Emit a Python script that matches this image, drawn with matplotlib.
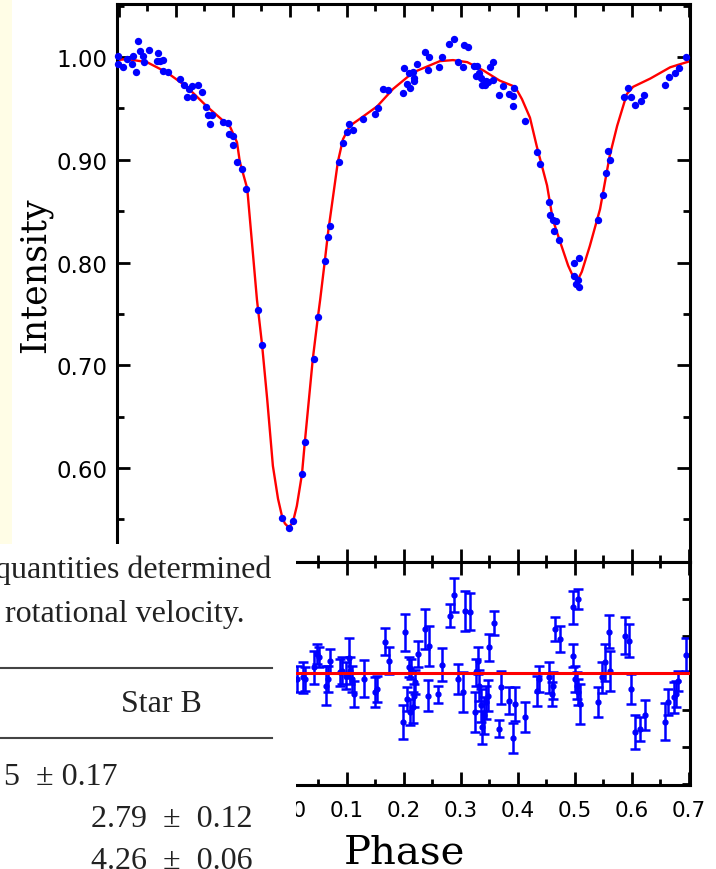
import matplotlib.pyplot as plt
from matplotlib.patches import Rectangle
from matplotlib.lines import Line2D
from matplotlib.ticker import MultipleLocator, FormatStrFormatter, FuncFormatter

# observed light curve (phase, normalised intensity)
phase_obs = [-0.302, -0.302, -0.293, -0.286, -0.277, -0.275, -0.270, -0.267, -0.263, -0.258,
             -0.256, -0.247, -0.233, -0.232, -0.228, -0.223, -0.223, -0.214, -0.193, -0.186,
             -0.181, -0.177, -0.172, -0.170, -0.161, -0.154, -0.147, -0.144, -0.140, -0.137,
             -0.118, -0.109, -0.107, -0.100, -0.100, -0.093, -0.084, -0.077, -0.056, -0.049,
             -0.014, -0.002, 0.005, 0.021, 0.026, 0.042, 0.049, 0.061, 0.067, 0.070,
             0.086, 0.093, 0.100, 0.104, 0.111, 0.128, 0.149, 0.154, 0.163, 0.172,
             0.198, 0.200, 0.205, 0.209, 0.211, 0.216, 0.218, 0.218, 0.223, 0.237,
             0.244, 0.242, 0.261, 0.267, 0.279, 0.288, 0.295, 0.304, 0.305, 0.312,
             0.323, 0.326, 0.328, 0.332, 0.335, 0.337, 0.342, 0.344, 0.347, 0.351,
             0.356, 0.356, 0.367, 0.374, 0.384, 0.391, 0.391, 0.393, 0.412, 0.433,
             0.439, 0.454, 0.456, 0.461, 0.467, 0.463, 0.472, 0.498, 0.507, 0.498,
             0.502, 0.505, 0.507, 0.540, 0.549, 0.554, 0.558, 0.561, 0.586, 0.593,
             0.598, 0.605, 0.616, 0.621, 0.658, 0.665, 0.675, 0.682, 0.695]
flux_obs = [1.001, 0.993, 0.990, 0.998, 0.993, 1.001, 0.985, 1.016, 1.006, 1.001,
            0.995, 1.007, 0.996, 1.004, 0.996, 0.997, 0.986, 0.985, 0.979, 0.973,
            0.961, 0.969, 0.972, 0.961, 0.973, 0.966, 0.951, 0.944, 0.935, 0.944,
            0.937, 0.936, 0.925, 0.923, 0.914, 0.898, 0.891, 0.872, 0.754, 0.720,
            0.551, 0.542, 0.548, 0.594, 0.625, 0.706, 0.747, 0.801, 0.825, 0.836,
            0.898, 0.916, 0.927, 0.935, 0.929, 0.940, 0.945, 0.950, 0.969, 0.968,
            0.965, 0.989, 0.974, 0.984, 0.970, 0.985, 0.977, 0.980, 0.993, 1.005,
            1.000, 0.987, 0.990, 1.000, 1.013, 1.018, 0.995, 0.990, 1.012, 1.010,
            0.991, 0.982, 0.991, 0.984, 0.980, 0.973, 0.973, 0.977, 0.976, 0.990,
            0.995, 0.978, 0.963, 0.972, 0.964, 0.952, 0.962, 0.970, 0.938, 0.908,
            0.896, 0.859, 0.846, 0.841, 0.840, 0.831, 0.822, 0.800, 0.804, 0.787,
            0.779, 0.783, 0.776, 0.841, 0.866, 0.887, 0.909, 0.900, 0.961, 0.970,
            0.961, 0.953, 0.957, 0.963, 0.973, 0.981, 0.984, 0.989, 1.000]

# model fit
phase_fit = [-0.3035, -0.286, -0.251, -0.216, -0.181, -0.146, -0.105, -0.093, -0.088, -0.075,
             -0.058, -0.049, -0.040, -0.030, -0.021, -0.014, -0.009, -0.002, 0.005, 0.012,
             0.021, 0.026, 0.040, 0.049, 0.053, 0.061, 0.067, 0.084, 0.093, 0.105,
             0.123, 0.153, 0.181, 0.216, 0.263, 0.286, 0.311, 0.339, 0.368, 0.395,
             0.407, 0.421, 0.433, 0.451, 0.461, 0.474, 0.488, 0.497, 0.504, 0.512,
             0.526, 0.544, 0.561, 0.574, 0.591, 0.602, 0.632, 0.667, 0.702]
flux_fit = [0.997, 0.998, 0.995, 0.985, 0.971, 0.952, 0.932, 0.917, 0.898, 0.872,
            0.764, 0.720, 0.667, 0.602, 0.570, 0.553, 0.546, 0.542, 0.547, 0.563,
            0.594, 0.625, 0.706, 0.747, 0.764, 0.801, 0.830, 0.898, 0.920, 0.933,
            0.940, 0.952, 0.969, 0.985, 0.996, 0.997, 0.995, 0.987, 0.977, 0.971,
            0.959, 0.941, 0.913, 0.875, 0.842, 0.820, 0.797, 0.786, 0.782, 0.791,
            0.816, 0.852, 0.904, 0.933, 0.964, 0.971, 0.979, 0.990, 0.996]

# residuals (O - C) with errors
phase_res = [0.012, 0.022, 0.026, 0.042, 0.048, 0.051, 0.063, 0.067, 0.070, 0.087,
             0.091, 0.099, 0.104, 0.106, 0.108, 0.112, 0.129, 0.149, 0.153, 0.167,
             0.173, 0.199, 0.202, 0.206, 0.208, 0.211, 0.213, 0.216, 0.218, 0.219,
             0.224, 0.236, 0.243, 0.244, 0.260, 0.267, 0.281, 0.287, 0.294, 0.304,
             0.307, 0.315, 0.325, 0.327, 0.330, 0.332, 0.335, 0.337, 0.340, 0.344,
             0.348, 0.350, 0.358, 0.367, 0.371, 0.385, 0.392, 0.395, 0.413, 0.433,
             0.437, 0.455, 0.459, 0.461, 0.465, 0.473, 0.497, 0.505, 0.497, 0.500,
             0.503, 0.506, 0.509, 0.541, 0.547, 0.553, 0.560, 0.561, 0.588, 0.594,
             0.598, 0.605, 0.614, 0.622, 0.658, 0.664, 0.673, 0.678, 0.681, 0.695]
resid = [-0.0016, -0.0012, -0.0016, 0.0015, 0.0051, 0.0042, -0.0034, -0.0016, 0.0033, 0.0002,
         0.0006, -0.0007, 0.0040, 0.0006, -0.0016, -0.0057, -0.0016, -0.0052, -0.0043, 0.0085,
         0.0033, -0.0133, 0.0110, -0.0070, 0.0015, -0.0106, 0.0011, -0.0093, -0.0061, -0.0025,
         0.0051, 0.0119, -0.0061, 0.0074, -0.0057, 0.0022, 0.0155, 0.0211, -0.0016, -0.0052,
         0.0168, 0.0166, -0.0106, 0.0002, 0.0033, -0.0034, -0.0088, -0.0147, -0.0115, -0.0079,
         -0.0061, 0.0069, 0.0135, -0.0151, -0.0039, -0.0075, -0.0176, -0.0084, -0.0120, -0.0048,
         -0.0016, -0.0012, -0.0057, -0.0034, 0.0119, 0.0092, 0.0177, 0.0200, 0.0047, -0.0016,
         -0.0034, -0.0052, -0.0084, -0.0079, -0.0012, 0.0029, 0.0112, 0.0006, 0.0101, 0.0087,
         -0.0043, -0.0160, -0.0151, -0.0114, -0.0132, -0.0079, -0.0066, -0.0057, -0.0021, 0.0049]
resid_err = [0.0036, 0.0041, 0.0032, 0.0045, 0.0027, 0.0027, 0.0054, 0.0036, 0.0032, 0.0036,
             0.0036, 0.0036, 0.0054, 0.0036, 0.0036, 0.0036, 0.0050, 0.0041, 0.0036, 0.0036,
             0.0036, 0.0045, 0.0050, 0.0032, 0.0027, 0.0036, 0.0027, 0.0041, 0.0032, 0.0032,
             0.0036, 0.0054, 0.0041, 0.0054, 0.0023, 0.0045, 0.0032, 0.0045, 0.0041, 0.0054,
             0.0054, 0.0050, 0.0054, 0.0036, 0.0036, 0.0041, 0.0045, 0.0045, 0.0050, 0.0045,
             0.0041, 0.0036, 0.0032, 0.0023, 0.0045, 0.0036, 0.0041, 0.0045, 0.0041, 0.0041,
             0.0036, 0.0041, 0.0032, 0.0036, 0.0032, 0.0036, 0.0045, 0.0027, 0.0032, 0.0036,
             0.0036, 0.0036, 0.0054, 0.0041, 0.0041, 0.0050, 0.0045, 0.0054, 0.0050, 0.0045,
             0.0041, 0.0045, 0.0032, 0.0041, 0.0050, 0.0036, 0.0041, 0.0036, 0.0027, 0.0045]

# table fragment text
table_caption = ['quantities determined', 'rotational velocity.']
table_header = 'Star B'
table_rows = ['5  \u00b1 0.17', '2.79  \u00b1  0.12', '4.26  \u00b1  0.06']

W, H = 716, 870


def fx(x):
    return x / W


def fy(y):
    return 1 - y / H


fig = plt.figure(figsize=(W / 100, H / 100), dpi=100)

# pale strip at the left edge
fig.add_artist(Rectangle((0, fy(545)), fx(12), 545 / H, transform=fig.transFigure,
                         facecolor='#fffde6', edgecolor='none', zorder=-1))

xlim = (-0.3035, 0.7018)
spine_w = 2.2

# light curve panel
ax = fig.add_axes([fx(117), fy(563), fx(690) - fx(117), (563 - 5) / H])
ax.plot(phase_fit, flux_fit, color='red', lw=1.7, zorder=2)
ax.plot(phase_obs, flux_obs, 'o', color='blue', ms=5.3, mec='none', zorder=3, clip_on=False)
ax.set_xlim(*xlim)
ax.set_ylim(0.5085, 1.0516)
ax.xaxis.set_major_locator(MultipleLocator(0.1))
ax.xaxis.set_minor_locator(MultipleLocator(0.05))
ax.yaxis.set_major_locator(MultipleLocator(0.1))
ax.yaxis.set_minor_locator(MultipleLocator(0.05))
ax.yaxis.set_major_formatter(FormatStrFormatter('%.2f'))
ax.tick_params(which='both', direction='in', top=True, bottom=True, left=True, right=True,
               labelbottom=False, width=2)
ax.tick_params(which='major', length=9.4)
ax.tick_params(which='minor', length=5)
ax.tick_params(axis='y', labelsize=16.5, pad=7)
for s in ax.spines.values():
    s.set_linewidth(spine_w)

# residual panel
ax2 = fig.add_axes([fx(117), fy(786), fx(690) - fx(117), (786 - 563) / H])
ax2.errorbar(phase_res, resid, yerr=resid_err, fmt='o', color='blue', ms=3.5,
             elinewidth=1.8, capsize=3.5, capthick=1.8, zorder=2)
ax2.axhline(0, color='red', lw=2.2, zorder=3)
ax2.set_xlim(*xlim)
ax2.set_ylim(-0.0303, 0.030)
ax2.xaxis.set_major_locator(MultipleLocator(0.1))
ax2.xaxis.set_minor_locator(MultipleLocator(0.05))
ax2.xaxis.set_major_formatter(FuncFormatter(lambda v, pos: '' if v < -0.05 else '%.1f' % abs(v)))
ax2.yaxis.set_major_locator(MultipleLocator(0.01))
ax2.tick_params(which='both', direction='in', top=True, bottom=True, left=False, right=True,
                labelleft=False, width=2)
ax2.tick_params(axis='x', which='major', length=9.4, labelsize=15.5, pad=11)
ax2.tick_params(axis='x', which='minor', length=4.5)
ax2.tick_params(axis='y', which='major', length=5.8)
for s in ax2.spines.values():
    s.set_linewidth(spine_w)

fig.text(fx(35), fy(275), 'Intensity', rotation=90, ha='center', va='center',
         fontsize=25, family='DejaVu Serif', color='black')
fig.text(fx(404), fy(864), 'Phase', ha='center', va='baseline',
         fontsize=29, family='DejaVu Serif', color='black')

# table fragment laid over the lower left
fig.add_artist(Rectangle((0, 0), fx(296), (870 - 545) / H, transform=fig.transFigure,
                         facecolor='white', edgecolor='none', zorder=10))
tkw = dict(va='baseline', fontsize=23, family='Liberation Serif', color='#222222', zorder=11)
fig.text(fx(271), fy(578), table_caption[0], ha='right', **tkw)
fig.text(fx(245), fy(622), table_caption[1], ha='right', **tkw)
fig.text(fx(202), fy(712), table_header, ha='right', **tkw)
fig.text(fx(117), fy(785), table_rows[0], ha='right', **tkw)
fig.text(fx(253), fy(827), table_rows[1], ha='right', **tkw)
fig.text(fx(253), fy(869), table_rows[2], ha='right', **tkw)
for yl in (669, 739):
    fig.add_artist(Line2D([0, fx(272)], [fy(yl), fy(yl)], transform=fig.transFigure,
                          color='#444444', lw=1.5, zorder=11))

fig.savefig('out.png', dpi=100)
